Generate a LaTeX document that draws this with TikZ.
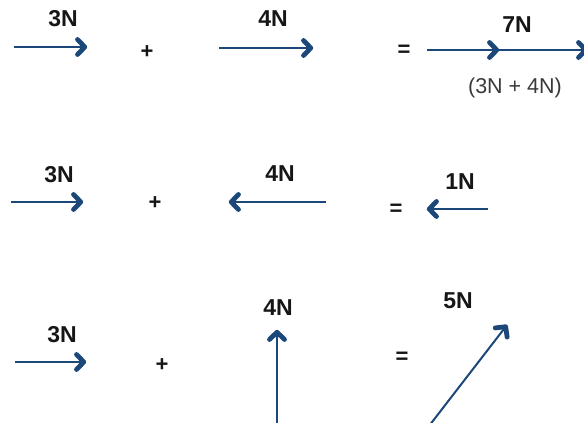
\documentclass[tikz,border=0pt]{standalone}
\usepackage{fontspec}
\setmainfont{Liberation Sans}
\definecolor{vecblue}{HTML}{1B4878}
\definecolor{txt}{HTML}{161616}
\tikzset{
  shaft/.style={draw=vecblue, line width=2.3pt, shorten >=2pt},
  chev/.pic={\draw[vecblue, line width=4.8pt, line cap=round, line join=round]
      (-9.5,-7.5) -- (-2.2,0) -- (-9.5,7.5);},
  lab/.style={font=\bfseries\fontsize{23}{26}\selectfont, text=txt, inner sep=0pt},
  op/.style={font=\bfseries\fontsize{22}{24}\selectfont, text=txt, inner sep=0pt},
  note/.style={font=\fontsize{21.5}{24}\selectfont, text=txt!85, inner sep=0pt}
}
\begin{document}
\begin{tikzpicture}[x=1pt,y=-1pt]
\useasboundingbox (0,0) rectangle (584,423);
% ---- Row 1
\node[lab] (l1a) at (63,19) {3N};
\coordinate (a1s) at (14,47); \coordinate (a1e) at (87,47);
\draw[shaft] (a1s) -- (a1e); \pic at (a1e) {chev};
\node[op] (p1) at (147,52) {+};
\node[lab] (l1b) at (273,19) {4N};
\coordinate (b1s) at (219,48); \coordinate (b1e) at (313,48);
\draw[shaft] (b1s) -- (b1e); \pic at (b1e) {chev};
\node[op] (e1) at (404,51) {=};
\node[lab] (l1c) at (517,25) {7N};
\coordinate (c1s) at (427,50); \coordinate (c1m) at (499,50); \coordinate (c1e) at (588,50);
\draw[shaft, shorten >=0pt] (c1s) -- (c1e);
\pic at (c1m) {chev}; \pic at (c1e) {chev};
\node[note] (n1) at (515,88) {(3N + 4N)};
% ---- Row 2
\node[lab] (l2a) at (59,175) {3N};
\coordinate (a2s) at (11,202); \coordinate (a2e) at (83,202);
\draw[shaft] (a2s) -- (a2e); \pic at (a2e) {chev};
\node[op] (p2) at (155,203) {+};
\node[lab] (l2b) at (280,174) {4N};
\coordinate (b2s) at (326,202); \coordinate (b2e) at (229,202);
\draw[shaft] (b2s) -- (b2e); \pic[rotate=180] at (b2e) {chev};
\node[op] (e2) at (396,210) {=};
\node[lab] (l2c) at (460,182) {1N};
\coordinate (c2s) at (488,209); \coordinate (c2e) at (427,209);
\draw[shaft] (c2s) -- (c2e); \pic[rotate=180] at (c2e) {chev};
% ---- Row 3
\node[lab] (l3a) at (62,335) {3N};
\coordinate (a3s) at (15,362); \coordinate (a3e) at (86,362);
\draw[shaft] (a3s) -- (a3e); \pic at (a3e) {chev};
\node[op] (p3) at (162,365) {+};
\node[lab] (l3b) at (278,308) {4N};
\coordinate (b3s) at (277,426); \coordinate (b3e) at (277,330);
\draw[shaft] (b3s) -- (b3e); \pic[rotate=90] at (b3e) {chev};
\node[op] (e3) at (402,358) {=};
\node[lab] (l3c) at (458,301) {5N};
\coordinate (c3s) at (429,426); \coordinate (c3e) at (507,325);
\draw[shaft, line width=2pt] (c3s) -- (c3e); \pic[rotate=52.3] at (c3e) {chev};
\end{tikzpicture}
\end{document}
